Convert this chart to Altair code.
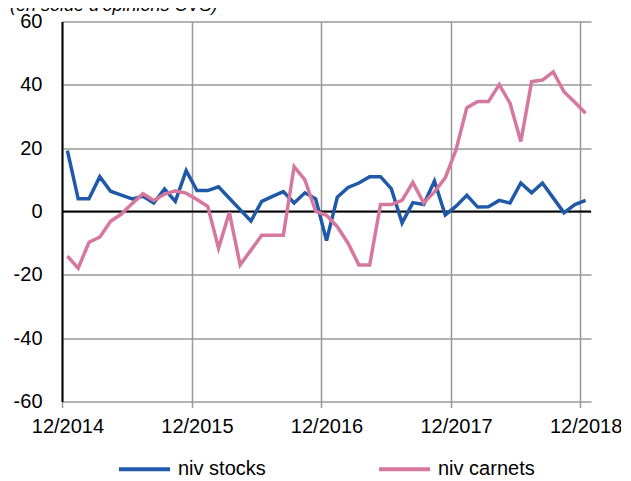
import altair as alt
import pandas as pd

title_text = "(en solde d'opinions CVS)"
series_names = ["niv stocks", "niv carnets"]
colors = ["#2059A8", "#D6789D"]

# monthly values, 12/2014 .. 12/2018
stocks = [19.2, 4.0, 4.0, 11.0, 6.4, 5.2, 4.0, 4.8, 2.7, 7.1, 3.2, 12.9,
          6.6, 6.6, 7.8, 4.2, 0.6, -3.0, 3.2, 4.8, 6.3, 2.7, 5.9, 4.0,
          -9.2, 4.5, 7.6, 9.0, 11.0, 11.0, 7.2, -3.6, 2.8, 2.2, 9.6, -1.1,
          1.7, 5.1, 1.4, 1.5, 3.5, 2.7, 9.0, 5.9, 9.0, 4.3, -0.4, 2.2, 3.5]
carnets = [-14.1, -17.9, -9.7, -8.1, -3.1, -0.8, 2.5, 5.6, 3.5, 5.5, 6.5, 5.8,
           3.8, 1.6, -11.6, -0.3, -16.9, -12.2, -7.5, -7.5, -7.5, 14.2, 10.0, 0.0,
           -1.2, -4.8, -10.0, -16.9, -16.9, 2.2, 2.2, 3.5, 9.2, 2.7, 6.2, 10.6,
           19.5, 32.8, 34.7, 34.7, 40.1, 34.2, 22.1, 41.0, 41.5, 44.1, 37.8, 34.5, 31.0]
month_labels = [f"{(11 + i) % 12 + 1:02d}/{2014 + (11 + i) // 12}" for i in range(len(stocks))]
tick_months = [0, 12, 24, 36, 48]
y_ticks = [-60, -40, -20, 0, 20, 40, 60]

rows = []
for name, vals in zip(series_names, [stocks, carnets]):
    for i, v in enumerate(vals):
        rows.append({"idx": i, "pos": i + 0.5, "mois": month_labels[i], "value": v, "series": name})
df = pd.DataFrame(rows)

FONT = "Liberation Sans"
GRID = "#989898"

x_enc = alt.X(
    "pos:Q",
    scale=alt.Scale(domain=[0, 49], nice=False, zero=False),
    axis=alt.Axis(
        values=tick_months,
        labelExpr="'12/' + (2014 + datum.value / 12)",
        grid=True, gridColor=GRID, gridWidth=1.5,
        ticks=True, tickColor=GRID, tickWidth=1.5, tickSize=6,
        domain=False, labelOffset=5.4, labelPadding=9, labelFlush=False,
        labelFontSize=20, labelFont=FONT, labelColor="black", title=None,
    ),
)
y_enc = alt.Y(
    "value:Q",
    scale=alt.Scale(domain=[-60, 60], nice=False),
    axis=alt.Axis(
        values=y_ticks, grid=True, gridColor=GRID, gridWidth=1.5,
        ticks=False, domainColor="black", domainWidth=2,
        labelExpr="datum.value + ''",
        labelPadding=20, labelFontSize=20, labelFont=FONT, labelColor="black", title=None,
    ),
)

lines = alt.Chart(df).mark_line(strokeWidth=3.5).encode(
    x=x_enc,
    y=y_enc,
    color=alt.Color(
        "series:N",
        scale=alt.Scale(domain=series_names, range=colors),
        legend=alt.Legend(
            orient="none", legendX=55, legendY=420, direction="horizontal",
            title=None, symbolType="stroke", symbolSize=2600, symbolStrokeWidth=4,
            labelFontSize=20, labelFont=FONT, labelColor="black", labelOffset=6,
            columnPadding=105,
        ),
    ),
    order="idx:Q",
)

zero = alt.Chart(pd.DataFrame({"v": [0]})).mark_rule(color="black", strokeWidth=2).encode(y="v:Q")

title = alt.Chart(pd.DataFrame({"t": [title_text]})).mark_text(
    align="left", baseline="alphabetic", fontStyle="italic", fontSize=18, font=FONT, color="black"
).encode(x=alt.value(-52), y=alt.value(-11), text="t:N")

chart = alt.layer(zero, lines, title).properties(
    width=529, height=380,
    autosize=alt.AutoSizeParams(type="none"),
    padding={"left": 54, "top": 13.5, "right": 30, "bottom": 82},
).configure_view(stroke=None)

chart.save("out.html", embed_options={"renderer": "svg", "actions": False})
